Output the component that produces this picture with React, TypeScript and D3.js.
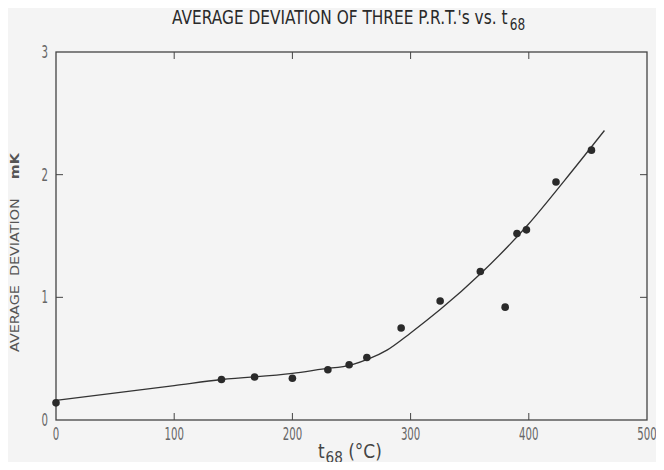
import React, { useEffect, useRef } from "react";
import * as d3 from "d3";

// measured points: t68 (°C) vs average deviation (mK)
const tempPoints = [0, 140, 168, 200, 230, 248, 263, 292, 325, 359, 380, 390, 398, 423, 453];
const devPoints = [0.14, 0.33, 0.35, 0.34, 0.41, 0.45, 0.51, 0.75, 0.97, 1.21, 0.92, 1.52, 1.55, 1.94, 2.2];

// smooth fitted curve
const curveTemps = [0, 100, 140, 200, 225, 250, 265, 280, 300, 325, 360, 400, 430, 464];
const curveDevs = [0.16, 0.28, 0.33, 0.38, 0.415, 0.45, 0.5, 0.57, 0.71, 0.9, 1.2, 1.6, 1.95, 2.36];

const xTicks = [0, 100, 200, 300, 400, 500];
const yTicks = [0, 1, 2, 3];

const W = 664;
const H = 470;
const margin = { top: 52, right: 17, bottom: 50, left: 56 };
const font = "'DejaVu Sans', sans-serif";

// squeeze a text horizontally so it spans `width` px
function fitWidth(text: any, width: number) {
    const len = text.node().getComputedTextLength();
    if (len > 0) text.attr("transform", `scale(${width / len},1)`);
}

function App() {
    const ref = useRef<SVGSVGElement>(null);

    useEffect(() => {
        const svg = d3.select(ref.current);
        svg.selectAll("*").remove();

        const x = d3.scaleLinear().domain([0, 500]).range([margin.left, W - margin.right]);
        const y = d3.scaleLinear().domain([0, 3]).range([H - margin.bottom, margin.top]);

        svg.append("rect").attr("width", W).attr("height", H).attr("fill", "#f4f4f4");

        // frame
        svg.append("rect")
            .attr("x", x(0))
            .attr("y", y(3))
            .attr("width", x(500) - x(0))
            .attr("height", y(0) - y(3))
            .attr("fill", "none")
            .attr("stroke", "#444")
            .attr("stroke-width", 1.3);

        const tickLen = 7;
        // inner ticks, bottom and top
        svg.append("g")
            .selectAll("line")
            .data(xTicks.slice(1, -1))
            .join("line")
            .attr("x1", (d) => x(d))
            .attr("x2", (d) => x(d))
            .attr("y1", y(0))
            .attr("y2", y(0) - tickLen)
            .attr("stroke", "#444");
        svg.append("g")
            .selectAll("line")
            .data(xTicks.slice(1, -1))
            .join("line")
            .attr("x1", (d) => x(d))
            .attr("x2", (d) => x(d))
            .attr("y1", y(3))
            .attr("y2", y(3) + tickLen)
            .attr("stroke", "#444");
        // left and right
        svg.append("g")
            .selectAll("line")
            .data(yTicks.slice(1, -1))
            .join("line")
            .attr("x1", x(0))
            .attr("x2", x(0) + tickLen)
            .attr("y1", (d) => y(d))
            .attr("y2", (d) => y(d))
            .attr("stroke", "#444");
        svg.append("g")
            .selectAll("line")
            .data(yTicks.slice(1, -1))
            .join("line")
            .attr("x1", x(500))
            .attr("x2", x(500) - tickLen)
            .attr("y1", (d) => y(d))
            .attr("y2", (d) => y(d))
            .attr("stroke", "#444");

        // tick labels (condensed by squeezing horizontally)
        svg.append("g")
            .selectAll("g")
            .data(xTicks)
            .join("g")
            .attr("transform", (d) => `translate(${x(d)},${y(0) + 20}) scale(0.6,1)`)
            .append("text")
            .attr("text-anchor", "middle")
            .attr("font-family", font)
            .attr("font-size", 17)
            .attr("fill", "#666")
            .text((d) => d);
        svg.append("g")
            .selectAll("g")
            .data(yTicks)
            .join("g")
            .attr("transform", (d) => `translate(${x(0) - 8},${y(d) + 6}) scale(0.6,1)`)
            .append("text")
            .attr("text-anchor", "end")
            .attr("font-family", font)
            .attr("font-size", 17)
            .attr("fill", "#666")
            .text((d) => d);

        // fitted curve
        const line = d3
            .line<number>()
            .x((d, i) => x(curveTemps[i]))
            .y((d) => y(d))
            .curve(d3.curveMonotoneX);
        svg.append("path")
            .attr("d", line(curveDevs))
            .attr("fill", "none")
            .attr("stroke", "#333")
            .attr("stroke-width", 1.3);

        // points
        svg.append("g")
            .selectAll("circle")
            .data(devPoints)
            .join("circle")
            .attr("cx", (d, i) => x(tempPoints[i]))
            .attr("cy", (d) => y(d))
            .attr("r", 3.8)
            .attr("fill", "#2a2a2a");

        // title
        const title = svg.append("g").attr("transform", "translate(172,24)")
            .append("text")
            .attr("font-family", font)
            .attr("font-size", 19)
            .attr("fill", "#2a2a2a");
        title.append("tspan").text("AVERAGE DEVIATION OF THREE P.R.T.'s vs. t");
        title.append("tspan").attr("dx", 3).attr("dy", 6).attr("font-size", 15).text("68");
        fitWidth(title, 351);

        // x label
        const xl = svg.append("g").attr("transform", "translate(318,458)")
            .append("text")
            .attr("font-family", font)
            .attr("font-size", 20)
            .attr("fill", "#444");
        xl.append("tspan").text("t");
        xl.append("tspan").attr("dx", 1).attr("dy", 5).attr("font-size", 16).text("68");
        xl.append("tspan").attr("dy", -5).text(" (°C)");
        fitWidth(xl, 63);

        // y label
        const yl = svg.append("g").attr("transform", "translate(19,352) rotate(-90)")
            .append("text")
            .attr("font-family", font)
            .attr("font-size", 13)
            .attr("fill", "#555")
            .attr("xml:space", "preserve");
        yl.append("tspan").text("AVERAGE  DEVIATION  ");
        yl.append("tspan").attr("font-weight", "bold").text("  mK");
        fitWidth(yl, 199);
    }, []);

    return <svg ref={ref} width={W} height={H} style={{ display: "block", margin: -8 }}></svg>;
}

export default App;
